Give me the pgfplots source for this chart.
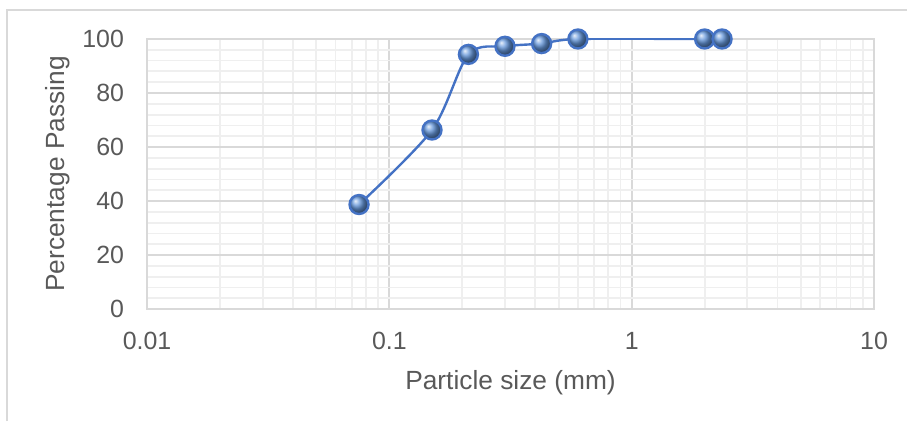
\documentclass[border=0pt]{standalone}
\usepackage{pgfplots}
\pgfplotsset{compat=1.18}
\usepackage{fontspec}
\setmainfont{Liberation Sans}
\definecolor{gridmaj}{RGB}{217,217,217}
\definecolor{gridmin}{RGB}{239,239,239}
\definecolor{txt}{RGB}{89,89,89}
\definecolor{lineblue}{RGB}{68,114,196}
\definecolor{ballblue}{RGB}{100,150,218}
\begin{document}
\begin{tikzpicture}[x=1bp,y=1bp]
\useasboundingbox (0,0) rectangle (453.5,210.5);
\draw[gridmaj, line width=0.75bp] (3.5,0) -- (3.5,205.5) -- (453.5,205.5);
\begin{axis}[
  at={(73.5bp,56bp)}, anchor=south west,
  scale only axis, width=363.5bp, height=135bp,
  xmode=log, xmin=0.01, xmax=10, ymin=0, ymax=100,
  xtick={0.01,0.1,1,10}, xticklabels={0.01,0.1,1,10},
  ytick={0,20,...,100}, minor y tick num=4,
  grid=both,
  major grid style={gridmaj, line width=0.9bp},
  minor grid style={gridmin, line width=0.9bp},
  axis line style={gridmaj, line width=0.9bp},
  major tick length=0pt, minor tick length=0pt,
  tick label style={font=\fontsize{12.5}{15}\selectfont, text=txt},
  xticklabel style={yshift=-8bp},
  yticklabel style={xshift=-8bp},
  /pgf/number format/assume math mode=true,
  xlabel={Particle size (mm)}, ylabel={Percentage Passing},
  label style={font=\fontsize{13.2}{16}\selectfont, text=txt},
  xlabel style={at={(axis description cs:0.5,-0.2963)}, anchor=base},
  ylabel style={at={(axis description cs:-0.1128,0.5)}, anchor=base},
]
\addplot[lineblue, line width=1.2bp, smooth, tension=0.5, mark=ball, mark size=4.75bp, mark options={ball color=ballblue}] coordinates {
(0.075,38.7) (0.15,66.3) (0.212,94.3) (0.3,97.3) (0.425,98.3) (0.6,100) (2,100) (2.36,100)
};
\end{axis}
\end{tikzpicture}
\end{document}
